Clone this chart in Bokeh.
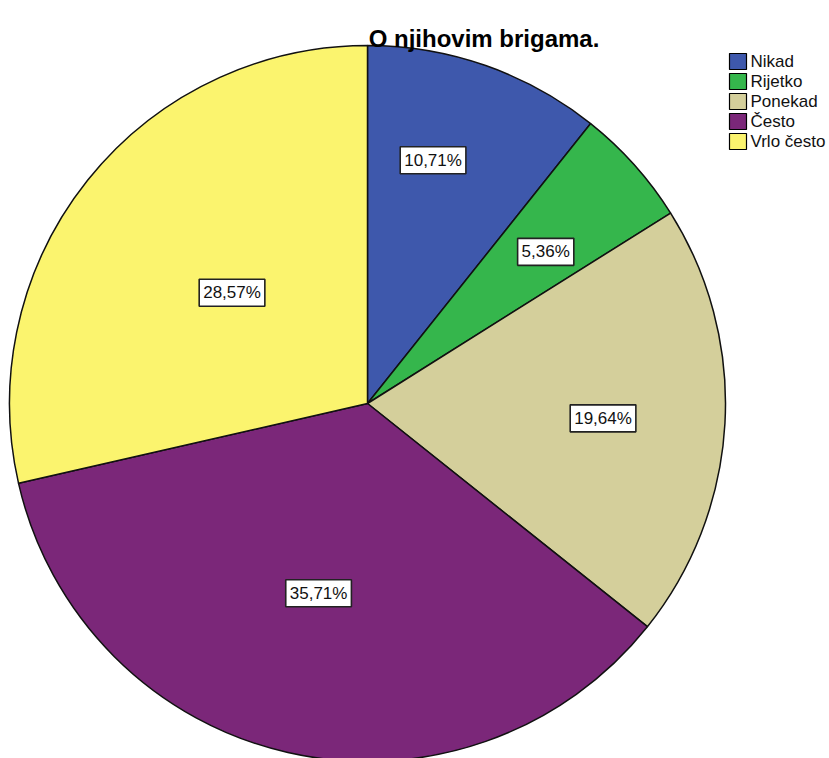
import math
from bokeh.plotting import figure
from bokeh.models import Range1d, ColumnDataSource
from bokeh.core.properties import value
from bokeh.embed import file_html
from bokeh.resources import INLINE

# ---- data ----
title_text = "O njihovim brigama."
categories = ["Nikad", "Rijetko", "Ponekad", "Često", "Vrlo često"]
percents = [10.71, 5.36, 19.64, 35.71, 28.57]
pct_labels = ["10,71%", "5,36%", "19,64%", "35,71%", "28,57%"]
colors = ["#3E58AC", "#35B64C", "#D4CF9B", "#7B2779", "#FBF46E"]

# ---- style / layout (pixels) ----
W, H = 829, 758
R = 358
label_r = [252, 234, 236, 196, 175]
label_da = [-4.2, 1.4, 0.4, 1.6, 0.7]  # degrees nudge

total = sum(percents)
starts, ends, lx, ly = [], [], [], []
cum = 0.0
for i, v in enumerate(percents):
    a0 = cum / total * 2 * math.pi
    cum += v
    a1 = cum / total * 2 * math.pi
    starts.append(math.pi / 2 - a0)
    ends.append(math.pi / 2 - a1)
    mid = (a0 + a1) / 2 + math.radians(label_da[i])
    lx.append(label_r[i] * math.sin(mid))
    ly.append(label_r[i] * math.cos(mid))

src = ColumnDataSource(dict(cat=categories, pct=pct_labels, color=colors,
                            start=starts, end=ends, lx=lx, ly=ly))

# pie centre at (367, 403) in picture pixels
cx, cy = 367, 403
p = figure(width=W, height=H, output_backend="svg", toolbar_location=None,
           x_range=Range1d(-cx, W - cx), y_range=Range1d(cy - H, cy),
           min_border=0)
p.axis.visible = False
p.grid.visible = False
p.outline_line_color = None
p.background_fill_color = "white"

p.wedge(x=0, y=0, radius=R, start_angle="start", end_angle="end", direction="clock",
        fill_color="color", line_color="#111111", line_width=1.5, source=src)

p.text(x="lx", y="ly", text="pct", source=src, text_align="center", text_baseline="middle",
       text_font=value("Liberation Sans"), text_font_size="17px", text_color="#111111",
       background_fill_color="white", border_line_color="#222222", border_line_width=1.6,
       padding=4)

# title
p.text(x=[116.5], y=[cy - 38.3], text=[title_text], text_align="center",
       text_baseline="alphabetic", text_font=value("Liberation Sans"),
       text_font_size="24px", text_font_style="bold", text_color="#000000")

# legend
leg_x = [737.5 - cx] * len(categories)
leg_y = [cy - (61 + 20 * i) for i in range(len(categories))]
lsrc = ColumnDataSource(dict(x=leg_x, y=leg_y, tx=[750 - cx] * len(categories),
                             cat=categories, color=colors))
p.rect(x="x", y="y", width=17, height=16, fill_color="color", line_color="black",
       line_width=1.2, source=lsrc)
p.text(x="tx", y="y", text="cat", source=lsrc, text_align="left", text_baseline="middle",
       text_font=value("Liberation Sans"), text_font_size="17px", text_color="#111111")

open("out.html", "w").write(file_html(p, INLINE))
